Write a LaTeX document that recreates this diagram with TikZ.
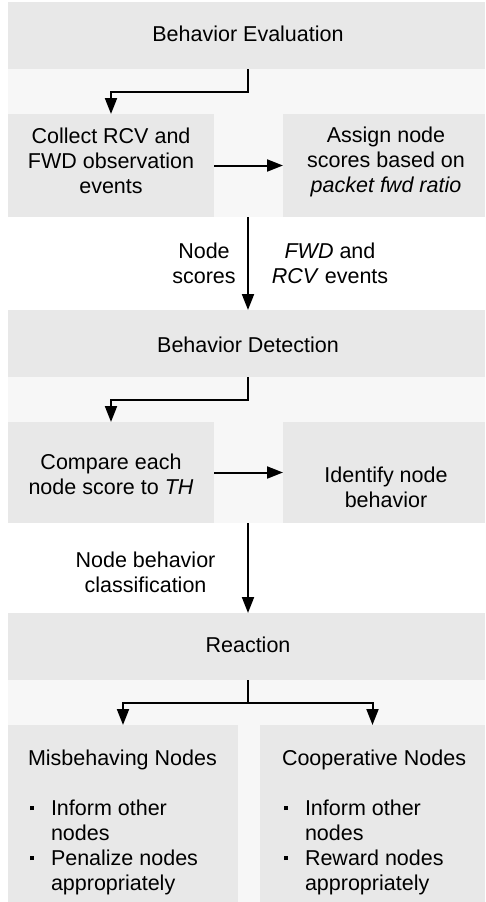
\documentclass[tikz,border=0pt]{standalone}
\usepackage{fontspec}
\setmainfont{Liberation Sans}
\usetikzlibrary{arrows.meta}
\definecolor{boxgray}{HTML}{E8E8E8}
\definecolor{bandgray}{HTML}{F7F7F7}
\newcommand{\bul}{\hspace*{1.5pt}\rule[5pt]{4pt}{4pt}\hspace*{17.5pt}}
\newcommand{\ind}{\hspace*{23pt}}
\newcommand{\cstack}[1]{\begin{tabular}[t]{@{}c@{}}#1\end{tabular}}
\newcommand{\lstack}[1]{\begin{tabular}[t]{@{}l@{}}#1\end{tabular}}
\begin{document}
\begin{tikzpicture}[x=1pt,y=-1pt,
  box/.style={fill=boxgray, draw=none, inner sep=0pt, outer sep=0pt, anchor=north west},
  txt/.style={inner sep=0pt, outer sep=0pt, anchor=base, text=black, font=\fontsize{21.5}{25}\selectfont},
  arr/.style={line width=2pt, -{Triangle[length=16pt,width=12pt]}},
  conn/.style={line width=2pt}]
\useasboundingbox (0,0) rectangle (485,902);
\fill[white] (0,0) rectangle (485,902);
% background panels
\fill[bandgray] (8,2) rectangle (485,217);
\fill[bandgray] (8,310) rectangle (485,523);
\fill[bandgray] (8,613) rectangle (485,902);
% boxes
\node[box, minimum width=477pt, minimum height=67pt] (be) at (8,2) {};
\node[box, minimum width=206pt, minimum height=103pt] (collect) at (8,114) {};
\node[box, minimum width=202pt, minimum height=103pt] (assign) at (283,114) {};
\node[box, minimum width=477pt, minimum height=67pt] (bd) at (8,310) {};
\node[box, minimum width=206pt, minimum height=101pt] (compare) at (8,422) {};
\node[box, minimum width=202pt, minimum height=101pt] (identify) at (283,422) {};
\node[box, minimum width=477pt, minimum height=67pt] (reaction) at (8,613) {};
\node[box, minimum width=230pt, minimum height=177pt] (mis) at (8,725) {};
\node[box, minimum width=225pt, minimum height=177pt] (coop) at (260,725) {};
% texts
\node[txt] (tbe) at (248,41.5) {Behavior Evaluation};
\node[txt] (tcollect) at (111,143) {\cstack{Collect RCV and\\FWD observation\\events}};
\node[txt] (tassign) at (386,142) {\cstack{Assign node\\scores based on\\\textit{packet fwd ratio}}};
\node[txt] (lns) at (204,258) {\cstack{Node\\scores}};
\node[txt] (lfr) at (330,258) {\cstack{\textit{FWD} and\\\textit{RCV} events}};
\node[txt] (tbd) at (248,352) {Behavior Detection};
\node[txt] (tcompare) at (111,469) {\cstack{Compare each\\node score to \textit{TH}}};
\node[txt] (tident) at (386,482) {\cstack{Identify node\\behavior}};
\node[txt] (lnbc) at (145.5,567) {\cstack{Node behavior\\classification}};
\node[txt] (treact) at (248,652) {Reaction};
\node[txt, anchor=base west] (tmis) at (28,765) {\lstack{Misbehaving Nodes\\ \\ \bul Inform other\\ \ind nodes\\ \bul Penalize nodes\\ \ind appropriately}};
\node[txt, anchor=base west] (tcoop) at (282,765) {\lstack{Cooperative Nodes\\ \\ \bul Inform other\\ \ind nodes\\ \bul Reward nodes\\ \ind appropriately}};
% connectors
\coordinate (cx) at (248,0);
\draw[arr] (be.south -| cx) -- ++(0,22.5) -| (collect.north);
\draw[arr] (collect.east) -- (assign.west);
\draw[arr] (collect.south -| cx) -- (bd.north -| cx);
\draw[arr] (bd.south -| cx) -- ++(0,22.5) -| (compare.north);
\draw[arr] (compare.east) -- (identify.west);
\draw[arr] (compare.south -| cx) -- (reaction.north -| cx);
\draw[conn] (reaction.south -| cx) -- ++(0,23) coordinate (fork);
\draw[arr] (fork) -| (mis.north);
\draw[arr] (fork) -| (coop.north);
\end{tikzpicture}
\end{document}
